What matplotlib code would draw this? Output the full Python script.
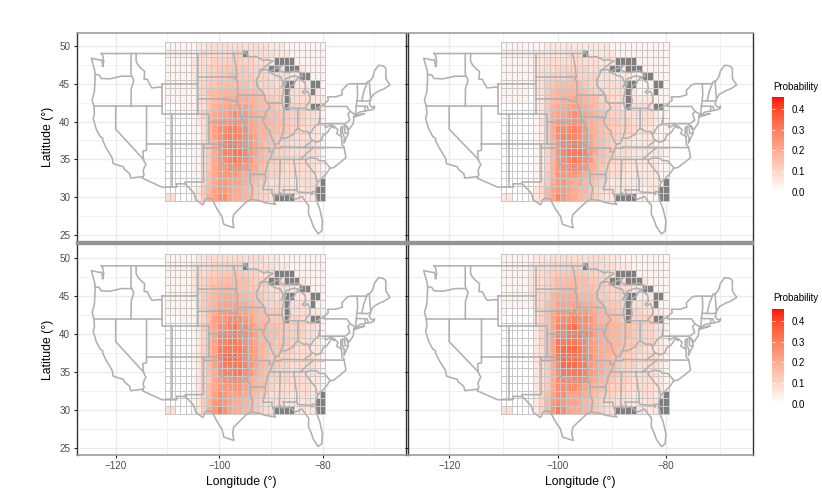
# heatmap panels of probability over the US state outlines
import numpy as np
import matplotlib
matplotlib.use('Agg')
import matplotlib.pyplot as plt
from matplotlib.colors import ListedColormap
from matplotlib.cm import ScalarMappable
from matplotlib.colors import Normalize

plt.rcParams['font.family'] = ['Liberation Sans', 'DejaVu Sans']

lons = list(range(-110, -79))
lats = list(range(50, 29, -1))
# one hex digit per cell, looked up in digit_values, rows from 50N down to 30N
digit_values = [0.0, 0.03, 0.06, 0.085, 0.11, 0.135, 0.16, 0.18, 0.2, 0.22, 0.245, 0.27, 0.29, 0.31, 0.34, 0.37]

top_left = [
"111111 22333 33333 33332 22111 11111",
"111111 23333 33444 33333 22211 11111",
"111112 23344 44444 43332 22221 11111",
"111112 23445 55555 44433 33222 21111",
"111112 23445 56655 54443 33322 21111",
"111112 34556 66666 55444 33332 22211",
"111111 34667 77777 66544 44433 32221",
"111111 23567 88888 77655 44433 33222",
"000111 23578 89999 87666 54444 44322",
"000001 24689 9abaa 98776 65544 43321",
"000001 2369a aabaa 98777 66544 43321",
"000001 1369b bccbb 98776 65544 33221",
"000001 1369b ccccb a9776 55443 33221",
"000001 1358b cddcb a9766 54433 33321",
"000001 1358a ccddc a9765 44433 33331",
"000001 1358a bcdcb a8765 44433 33321",
"000001 1358a abbba 98654 44333 33321",
"000001 1368a aaa98 87654 43333 33322",
"000001 1468a a9998 76543 33322 33322",
"000001 2579a a9887 65433 33222 23322",
"330001 2589b b9887 65443 33222 22222",
]
top_right = [
"111111 11222 22222 22221 11111 11111",
"111111 22222 23333 22222 11111 11111",
"111111 22333 33333 33222 22111 11111",
"111111 23334 44444 33322 22211 11111",
"111111 23444 45544 44332 22211 11111",
"111111 23556 66665 44333 33221 11111",
"111110 23567 77776 54433 33221 11111",
"111110 12567 88887 66443 33322 22111",
"000000 12578 89998 76544 43333 33211",
"000000 12589 9aba9 87654 44333 33211",
"000000 1358a aaba9 87655 54433 33211",
"000000 1258b bbcba 87654 44433 22111",
"000000 1258b cccba 97654 43322 22111",
"000000 1247a ccdcb 97654 33322 22111",
"000000 1247a cdddc a8654 33322 22221",
"000000 1247a bcdcb a7654 33322 22211",
"000000 1247a bbcba 87543 33222 22211",
"000000 1257a aaa98 76543 32222 22211",
"000000 1358a a9887 65432 22222 22211",
"000000 2479a a9877 54322 22211 12211",
"220000 2379c a9876 54322 22211 11111",
]
bottom_left = [
"111111 22333 33333 33322 21111 11111",
"111112 33344 44444 33333 22211 11111",
"111112 33445 55555 44333 32221 11111",
"111112 34556 66666 54443 33222 21111",
"111112 34567 77766 55443 33322 21111",
"111112 35678 88877 65544 33332 22211",
"111111 35679 99988 76544 44433 32211",
"111111 2468a aaa99 87655 54433 33221",
"000111 2469a abbba 97665 55544 33221",
"000001 2579b bcdbb a8776 65544 43321",
"000001 2469c ccdcb a9776 65544 43321",
"000001 2469c cddcb a9776 55544 33221",
"000001 2469d ddddc a9765 55443 33221",
"000001 2469d eeedc a9765 54433 33321",
"000001 2469c ddddc a9765 54433 33321",
"000001 2468b ccddb a8765 44433 33321",
"000001 2458a bbcba 87654 44433 33221",
"000001 2468a aaaa9 87654 33333 33221",
"000001 2469b a9998 76543 33322 33221",
"000001 257ab a9887 65433 33222 23221",
"330001 258ad b9887 65433 33222 22221",
]
bottom_right = [
"111111 22233 33333 33322 21111 11111",
"111112 23344 44444 44333 22211 11111",
"111112 23445 55555 44433 32221 11111",
"111112 33456 66666 55443 33222 21111",
"111112 23456 77766 65544 43322 21111",
"111112 34578 88877 76554 44332 22111",
"111111 34679 99998 87655 54433 32211",
"100000 2468a aabaa 98766 55444 33221",
"000000 2469b bbcbb a8776 65544 44221",
"000000 2469c cdecb a9887 76655 44321",
"000000 2469c cdddc b9887 76654 44321",
"000000 2469d dddcc a9887 76554 44321",
"000000 2369d eeedc a9887 65544 33221",
"000000 2369d eeedd b9876 65443 33321",
"000000 2358c eeedd a9876 54443 33321",
"000000 2358b ddddc a9876 54433 33321",
"000000 2358b ccccb 98765 44433 33221",
"000000 2358b bbba9 87654 44333 33221",
"000000 2469b b9998 76544 33322 33221",
"000000 247ab a9987 65433 33222 23221",
"330000 247ad b9887 65433 33222 22221",
]

# cells with no value (lakes and sea)
missing_cells = [(-95, 49), (-89, 48), (-88, 48), (-87, 48), (-86, 48),
	(-90, 47), (-89, 47), (-87, 47), (-86, 47), (-85, 47),
	(-84, 46), (-83, 46), (-87, 45), (-86, 45), (-82, 45), (-81, 45),
	(-87, 44), (-82, 44), (-87, 43), (-87, 42), (-82, 42), (-81, 42),
	(-80, 32), (-81, 31), (-80, 31),
	(-89, 30), (-88, 30), (-87, 30), (-86, 30), (-81, 30), (-80, 30)]

legend_ticks = [0.0, 0.1, 0.2, 0.3, 0.4]
FILL_MAX = 0.46

# outer edge of the country, from Washington round to Washington
outer_edge = [(-122.75,49.0),(-95.15,49.0),(-95.15,49.38),(-94.8,49.3),(-94.6,48.7),(-93.8,48.55),(-92.9,48.6),(-92.0,48.3),
	(-91.4,48.05),(-90.8,48.2),(-89.6,48.0),(-90.5,47.6),(-91.5,47.0),(-92.1,46.75),(-91.2,46.85),(-90.75,46.9),(-90.4,46.55),
	(-89.5,46.85),(-88.5,47.2),(-87.9,47.45),(-88.3,47.0),(-88.4,46.8),(-87.4,46.5),(-86.5,46.5),(-85.5,46.7),(-85.0,46.75),
	(-84.6,46.45),(-84.1,46.5),(-83.9,46.0),(-84.7,45.9),(-85.5,46.05),(-86.3,45.9),(-86.7,45.75),(-87.0,45.75),(-87.6,45.1),
	(-88.0,44.55),(-87.4,44.9),(-87.05,45.25),(-87.5,44.3),(-87.9,43.0),(-87.8,42.3),(-87.55,41.7),(-87.2,41.65),(-86.6,41.9),
	(-86.25,42.7),(-86.5,43.6),(-86.25,44.7),(-85.6,44.9),(-85.2,45.4),(-84.75,45.78),(-84.0,45.45),(-83.4,45.1),(-83.3,44.3),
	(-83.9,43.9),(-83.5,43.7),(-82.95,44.05),(-82.5,43.4),(-82.45,43.0),(-82.5,42.6),(-83.1,42.2),(-83.4,41.75),(-82.7,41.5),
	(-81.7,41.5),(-80.5,42.0),(-79.76,42.27),(-78.9,42.85),(-79.05,43.27),(-77.5,43.27),(-76.2,43.55),(-76.3,44.1),(-75.3,44.85),
	(-74.7,45.0),(-71.5,45.0),(-71.4,45.25),(-70.8,45.4),(-70.3,45.9),(-70.0,46.7),(-69.2,47.45),(-68.3,47.35),(-67.8,47.05),
	(-67.8,45.7),(-67.45,45.3),(-67.0,44.85),(-68.2,44.3),(-69.0,44.1),(-70.2,43.6),(-70.7,43.05),(-70.8,42.7),(-71.0,42.3),
	(-70.6,41.95),(-70.0,41.8),(-70.0,42.05),(-70.2,41.65),(-70.65,41.55),(-71.4,41.45),(-72.9,41.25),(-74.0,40.7),(-74.0,40.4),
	(-74.1,39.75),(-74.9,38.95),(-75.5,39.5),(-75.1,38.8),(-75.05,38.45),(-75.9,37.15),(-75.8,37.9),(-76.2,38.6),(-76.1,39.4),
	(-76.5,39.2),(-76.5,38.5),(-76.3,37.5),(-76.3,36.95),(-75.9,36.7),(-75.5,35.25),(-76.5,34.65),(-77.9,33.9),(-78.6,33.85),
	(-79.2,33.2),(-80.0,32.6),(-80.9,32.0),(-81.3,31.2),(-81.4,30.4),(-81.0,29.2),(-80.55,28.4),(-80.05,26.8),(-80.2,25.5),
	(-80.9,25.15),(-81.8,26.1),(-82.2,26.9),(-82.75,27.8),(-82.7,28.9),(-83.4,29.5),(-84.0,30.1),(-85.3,29.7),(-86.4,30.4),
	(-87.5,30.3),(-88.0,30.25),(-88.1,30.6),(-88.4,30.35),(-89.4,30.3),(-89.6,30.15),(-89.4,29.9),(-89.4,29.3),(-89.1,29.05),
	(-90.1,29.15),(-91.3,29.3),(-92.2,29.55),(-93.85,29.7),(-94.7,29.4),(-95.9,28.6),(-97.2,27.7),(-97.4,26.9),(-97.15,25.95),
	(-99.1,26.4),(-99.5,27.5),(-100.3,28.3),(-101.4,29.77),(-102.3,29.88),(-102.7,29.7),(-103.15,28.98),(-104.5,29.65),
	(-104.9,30.55),(-106.5,31.75),(-108.2,31.78),(-108.2,31.33),(-111.07,31.33),(-114.8,32.5),(-114.72,32.72),(-117.12,32.53),
	(-117.3,33.1),(-118.4,33.75),(-118.5,34.03),(-119.2,34.15),(-120.5,34.45),(-120.65,35.15),(-121.9,36.6),(-122.5,37.5),
	(-122.5,37.8),(-123.0,38.0),(-123.75,39.0),(-124.35,40.4),(-124.1,41.0),(-124.2,42.0),(-124.55,42.85),(-124.1,44.0),
	(-123.95,46.2),(-124.1,46.9),(-124.7,48.38),(-123.2,48.15),(-122.75,48.15),(-122.4,47.3),(-122.6,47.3),(-122.3,47.9),
	(-122.5,48.75),(-122.75,49.0)]

state_lines = [
	[(-124,46.25),(-123.2,46.15),(-122.8,45.7),(-121.2,45.65),(-119.3,45.93),(-119,46),(-116.92,46)],
	[(-117.03,49),(-117.04,46.4),(-116.92,46),(-116.5,45.5),(-117.0,44.3),(-117.03,42)],
	[(-124.2,42),(-111.05,42)],
	[(-120,42),(-120,39),(-114.63,35),(-114.55,34.8),(-114.15,34.3),(-114.5,33.9),(-114.7,33.4),(-114.5,33),(-114.72,32.72)],
	[(-114.04,42),(-114.04,36.2),(-114.75,36.1),(-114.63,35)],
	[(-114.04,37),(-94.62,37)],
	[(-109.05,41),(-109.05,31.33)],
	[(-111.05,45),(-111.05,41),(-102.05,41),(-102.05,37)],
	[(-111.05,45),(-104.05,45)],
	[(-102.05,40),(-95.3,40)],
	[(-116.05,49),(-116.05,48),(-115.7,47.5),(-114.9,46.9),(-114.4,46.65),(-114.5,45.6),(-113.9,45.6),(-113.45,44.95),(-113,44.45),(-111.5,44.55),(-111.05,44.5)],
	[(-104.05,49),(-104.05,41)],
	[(-104.05,45.94),(-96.56,45.94)],
	[(-104.05,43),(-98.5,43),(-97.9,42.8),(-97,42.75),(-96.45,42.49)],
	[(-97.23,49),(-96.85,47.6),(-96.56,45.94),(-96.85,45.6),(-96.45,45.3),(-96.45,43.5),(-91.22,43.5)],
	[(-96.45,43.5),(-96.6,43.1),(-96.45,42.49),(-96.1,41.7),(-95.9,41.2),(-95.85,40.7),(-95.3,40),(-94.9,39.8),(-95.1,39.5),(-94.6,39.1),(-94.62,36.5)],
	[(-95.77,40.58),(-91.73,40.6),(-91.4,40.4)],
	[(-103,37),(-103,36.5),(-100,36.5),(-100,34.56),(-99.2,34.3),(-98.1,34.1),(-97.2,33.8),(-96,33.8),(-95.2,33.9),(-94.48,33.64),(-94.04,33.55),(-94.04,32),(-93.55,31.2),(-93.85,29.7)],
	[(-94.62,36.5),(-94.43,35.4),(-94.48,33.64)],
	[(-94.04,33.02),(-91.15,33.0)],
	[(-94.62,36.5),(-90.15,36.5),(-90.35,36.0),(-89.7,36.0)],
	[(-103.05,37),(-103.05,32),(-106.6,32),(-106.5,31.75)],
	[(-92.1,46.75),(-92.3,46.1),(-92.8,45.6),(-92.75,44.75),(-91.2,43.5),(-91.1,42.7),(-90.64,42.5),(-90.2,41.8),(-91.05,41.2),(-91.1,40.7),(-91.4,40.4),(-91.5,40.0),(-90.7,39),(-90.15,38.8),(-90.2,38.4),(-89.5,37.3),(-89.15,37),(-89.4,36.5),(-89.7,36),(-90.1,35.1),(-90.6,34.6),(-91.15,33.0),(-91.0,32.4),(-91.6,31.0),(-89.75,31.0),(-89.85,30.65),(-89.55,30.2)],
	[(-90.64,42.5),(-87.8,42.5)],
	[(-90.4,46.55),(-89.1,46.1),(-88.1,45.9),(-87.8,45.35),(-87.6,45.1)],
	[(-87.53,41.7),(-87.53,39.35),(-87.6,38.7),(-88.05,37.8)],
	[(-89.15,37),(-88.5,37.1),(-88.05,37.8),(-87.1,37.8),(-86.3,38.1),(-85.7,38.3),(-85.4,38.7),(-84.8,39.1),(-84.3,38.9),(-83.7,38.65),(-82.85,38.7),(-82.6,38.4),(-82.2,38.6),(-81.75,39.2),(-80.85,39.7),(-80.52,40.64),(-80.52,42)],
	[(-84.81,39.1),(-84.8,41.73)],
	[(-86.8,41.76),(-84.8,41.73),(-83.45,41.73)],
	[(-89.4,36.5),(-88.05,36.5),(-88.05,36.65),(-83.68,36.6),(-81.68,36.59),(-75.9,36.55)],
	[(-83.68,36.6),(-82.3,37.3),(-81.97,37.54),(-82.3,37.7),(-82.6,38.4)],
	[(-81.97,37.54),(-81.2,37.25),(-80.3,37.5),(-79.9,38.2),(-79.3,38.4),(-78.87,38.77),(-78.35,39.4),(-77.83,39.13),(-77.72,39.32)],
	[(-79.48,39.72),(-79.48,39.2),(-78.4,39.6),(-77.72,39.32),(-77.05,38.9),(-77.3,38.4),(-76.3,38)],
	[(-80.52,39.72),(-75.78,39.72),(-75.7,38.46),(-75.05,38.45)],
	[(-80.52,40.64),(-80.52,39.72)],
	[(-79.76,42.27),(-79.76,42),(-75.35,42),(-74.7,41.36),(-75.13,40.98),(-74.75,40.2),(-75.5,39.8)],
	[(-74.7,41.36),(-73.9,41)],
	[(-73.65,41),(-73.5,42.05),(-73.25,43.55),(-73.35,45)],
	[(-73.5,42.05),(-71.8,42.02),(-71.8,41.4)],
	[(-73.25,42.74),(-71.3,42.7),(-70.8,42.85)],
	[(-71.8,42.02),(-71.38,42.02),(-71.2,41.5)],
	[(-72.45,42.73),(-72.05,44.0),(-71.5,45.0)],
	[(-70.75,43.1),(-71.0,45.3)],
	[(-73.9,40.6),(-71.9,41.05),(-72.7,40.95),(-73.7,40.85),(-73.9,40.6)],
	[(-90.3,35),(-84.32,35),(-83.1,35.8),(-81.68,36.59)],
	[(-84.32,35),(-83.1,35),(-82.3,35.2),(-81.05,35.1),(-80.8,34.85),(-79.67,34.8),(-78.55,33.85)],
	[(-83.1,35),(-83.35,34.7),(-82.0,33.5),(-81.4,33.0),(-81.1,32.1),(-80.9,32.05)],
	[(-85.6,35),(-85.18,32.87),(-85.0,32.3),(-85.0,31),(-84.85,30.7),(-82.2,30.57),(-82.05,30.36),(-82.0,30.75),(-81.45,30.7)],
	[(-87.6,31),(-85,31)],
	[(-87.6,31),(-87.4,30.65),(-87.5,30.3)],
	[(-88.2,35),(-88.4,30.3)],
]

W, H = 822.0, 493.0

def lab_to_hex_list(n=256):
	# white to red through Lab, as the original gradient does
	white = np.array([100.0, 0.0, 0.0])
	red = np.array([53.24, 80.09, 67.2])
	out = []
	for t in np.linspace(0, 1, n):
		L, a, b = white + (red - white) * t
		fy = (L + 16) / 116
		fx = fy + a / 500
		fz = fy - b / 200
		xyz = []
		for f, ref in zip((fx, fy, fz), (0.95047, 1.0, 1.08883)):
			xyz.append(ref * (f ** 3 if f > 6 / 29 else 3 * (6 / 29) ** 2 * (f - 4 / 29)))
		m = np.array([[3.2406, -1.5372, -0.4986], [-0.9689, 1.8758, 0.0415], [0.0557, -0.2040, 1.0570]])
		rgb = np.clip(m.dot(xyz), 0, 1)
		rgb = np.where(rgb <= 0.0031308, 12.92 * rgb, 1.055 * rgb ** (1 / 2.4) - 0.055)
		out.append(np.clip(rgb, 0, 1))
	return out

fill_cmap = ListedColormap(lab_to_hex_list())
fill_cmap.set_bad('#7F7F7F')

def to_grid(rows):
	vals = [[digit_values[int(c, 16)] for c in r.replace(' ', '')] for r in rows]
	vals = np.array(vals)
	mask = np.zeros(vals.shape, dtype=bool)
	for lon, lat in missing_cells:
		mask[lats.index(lat), lons.index(lon)] = True
	return np.ma.array(vals, mask=mask)

def draw_panel(box, ylim, rows, left_labels, bottom_labels):
	x0, x1, y0, y1 = box
	ax = fig.add_axes([x0 / W, 1 - y1 / H, (x1 - x0) / W, (y1 - y0) / H])
	# lw above 0.7 snaps to two pixels here
	ax.pcolormesh(lons, lats, to_grid(rows), cmap=fill_cmap, vmin=0, vmax=FILL_MAX, shading='nearest',
		edgecolors='#C8C8C8', linewidth=0.7, zorder=2)
	for seg in [outer_edge] + state_lines:
		seg = np.array(seg)
		ax.plot(seg[:, 0], seg[:, 1], color='#B0B0B0', lw=1.15, solid_joinstyle='round', zorder=3)
	ax.set_xlim(-127.53, -64.0)
	ax.set_ylim(*ylim)
	ax.set_xticks([-120, -100, -80])
	ax.set_yticks([25, 30, 35, 40, 45, 50])
	ax.set_xticks([-110, -90, -70], minor=True)
	ax.set_yticks([27.5, 32.5, 37.5, 42.5, 47.5], minor=True)
	ax.grid(True, which='major', color='#EBEBEB', lw=1.0)
	ax.grid(True, which='minor', color='#EFEFEF', lw=0.6)
	ax.set_axisbelow(True)
	ax.tick_params(which='minor', length=0)
	ax.tick_params(which='major', length=2.2, width=0.8, color='#222222', labelsize=7.1, labelcolor='#4D4D4D', pad=2.5,
		labelleft=left_labels, labelbottom=bottom_labels)
	for side in ('left', 'right'):
		ax.spines[side].set_color('#333333')
		ax.spines[side].set_linewidth(1.0)
	for side in ('top', 'bottom'):
		ax.spines[side].set_color('#949494')
		ax.spines[side].set_linewidth(1.1)
	# the seam between the two rows is a thick grey band
	seam = 'bottom' if not bottom_labels else 'top'
	ax.spines[seam].set_linewidth(1.7)
	return ax

def draw_legend(y_top, y_bottom, title_y):
	cax = fig.add_axes([772.3 / W, 1 - y_bottom / H, 11.7 / W, (y_bottom - y_top) / H])
	sm = ScalarMappable(norm=Normalize(0, FILL_MAX), cmap=fill_cmap)
	cb = fig.colorbar(sm, cax=cax, ticks=legend_ticks)
	cb.outline.set_visible(False)
	cb.ax.tick_params(direction='in', length=2.3, width=0.5, color='white', left=True, right=True,
		labelsize=7, labelcolor='black', pad=5.5)
	cb.ax.set_yticklabels(['%.1f' % t for t in legend_ticks])
	fig.text(773 / W, 1 - title_y / H, 'Probability', fontsize=7, color='black', ha='left', va='center')

fig = plt.figure(figsize=(W / 100, H / 100), dpi=100)
top_ylim = (24.07, 51.78)
bottom_ylim = (24.1, 51.91)
draw_panel((76.7, 405.5, 32.5, 242.0), top_ylim, top_left, True, False)
draw_panel((408.3, 753.0, 32.5, 242.0), top_ylim, top_right, False, False)
draw_panel((76.7, 405.5, 243.8, 454.5), bottom_ylim, bottom_left, True, True)
draw_panel((408.3, 753.0, 243.8, 454.5), bottom_ylim, bottom_right, False, True)

draw_legend(96.7, 191.7, 86.7)
draw_legend(308.5, 403.5, 298.0)

fig.text(241 / W, 1 - 481.5 / H, 'Longitude (°)', fontsize=8.8, ha='center', va='center')
fig.text(580 / W, 1 - 481.5 / H, 'Longitude (°)', fontsize=8.8, ha='center', va='center')
fig.text(47.5 / W, 1 - 137 / H, 'Latitude (°)', fontsize=8.8, rotation=90, ha='center', va='center')
fig.text(47.5 / W, 1 - 350 / H, 'Latitude (°)', fontsize=8.8, rotation=90, ha='center', va='center')

fig.savefig('out.png', dpi=100)
